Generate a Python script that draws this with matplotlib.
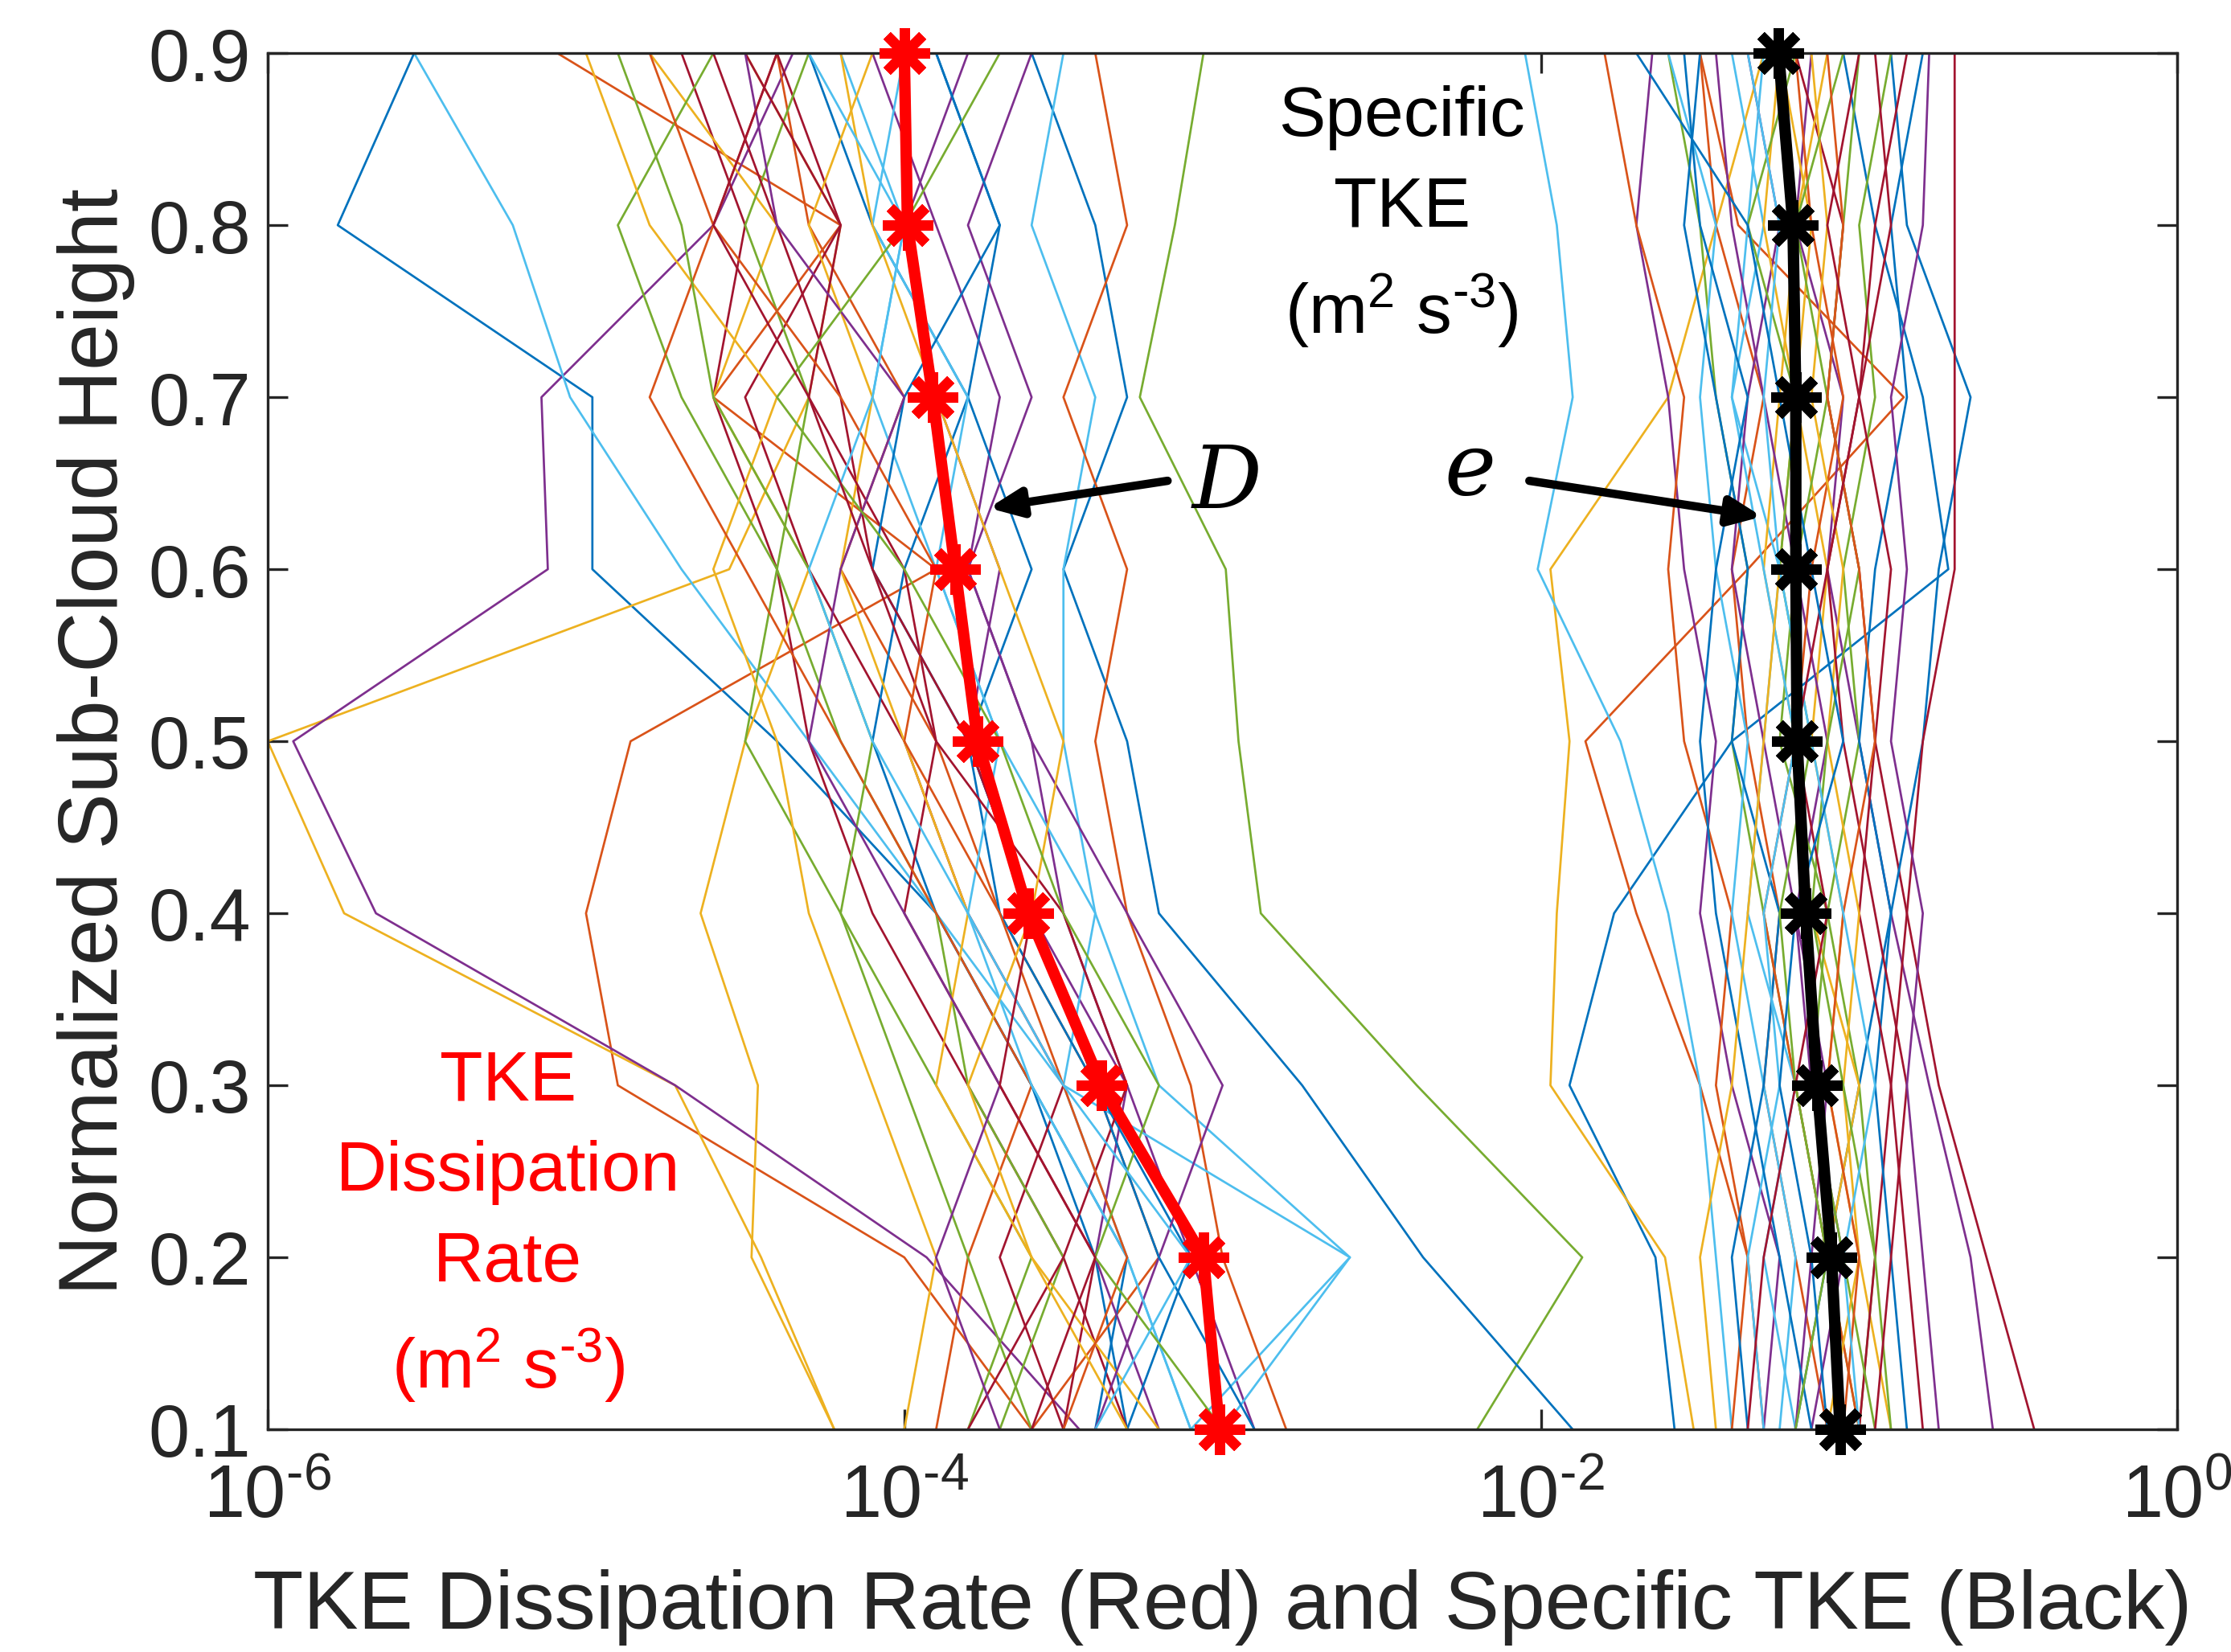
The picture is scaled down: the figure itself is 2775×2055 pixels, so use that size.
import numpy as np
import matplotlib
matplotlib.use('Agg')
import matplotlib.pyplot as plt

plt.rcParams['font.family'] = ['Liberation Sans', 'DejaVu Sans']
plt.rcParams['mathtext.fontset'] = 'custom'
plt.rcParams['mathtext.rm'] = 'Liberation Sans'
plt.rcParams['mathtext.it'] = 'Liberation Sans:italic'
plt.rcParams['mathtext.default'] = 'rm'

# normalized sub-cloud heights (bottom -> top)
heights = [0.1, 0.2, 0.3, 0.4, 0.5, 0.6, 0.7, 0.8, 0.9]

# mean profiles, log10 of value
mean_D = [-3.01, -3.06, -3.38, -3.61, -3.77, -3.84, -3.91, -3.99, -4.00]
mean_e = [-1.06, -1.087, -1.132, -1.168, -1.195, -1.199, -1.199, -1.208, -1.253]

# individual TKE dissipation rate profiles, log10 (approx.)
D_profiles = [
    [-3.3, -3.4, -3.6, -3.9, -4.4, -4.98, -4.98, -5.78, -5.54],
    [-3.6, -4.0, -4.9, -5.0, -4.86, -3.9, -4.6, -4.2, -5.09],
    [-4.22, -4.45, -4.72, -5.76, -6.0, -4.55, -4.3, -4.2, -4.5],
    [-3.45, -3.93, -4.72, -5.66, -5.92, -5.12, -5.14, -4.6, -4.35],
    [-2.2, -1.87, -2.39, -2.88, -2.95, -2.99, -3.26, -3.15, -3.06],
    [-3.1, -3.3, -3.5, -3.9, -4.3, -4.7, -5.05, -5.23, -5.54],
    [-3.3, -3.5, -3.8, -4.1, -4.3, -4.4, -4.6, -4.5, -4.7],
    [-1.9, -2.37, -2.75, -3.2, -3.3, -3.5, -3.3, -3.4, -3.6],
    [-3.6, -3.2, -3.4, -3.7, -3.9, -4.2, -4.0, -4.3, -4.4],
    [-4.22, -4.48, -4.46, -4.64, -4.5, -4.3, -4.6, -4.4, -4.8],
    [-2.9, -3.1, -3.3, -3.5, -3.6, -3.8, -3.7, -3.9, -4.1],
    [-3.8, -3.6, -3.9, -4.2, -4.5, -4.4, -4.7, -4.9, -4.6],
    [-3.1, -2.6, -3.2, -3.4, -3.5, -3.5, -3.4, -3.6, -3.5],
    [-3.5, -3.7, -3.5, -3.8, -4.0, -4.3, -4.5, -4.2, -4.4],
    [-3.4, -3.3, -3.6, -3.9, -4.1, -4.0, -3.8, -4.1, -4.3],
    [-2.8, -3.0, -3.1, -3.3, -3.4, -3.3, -3.5, -3.3, -3.4],
    [-4.0, -3.9, -4.1, -4.3, -4.4, -4.6, -4.4, -4.8, -5.0],
    [-3.2, -3.4, -3.3, -3.6, -3.8, -3.7, -3.9, -4.0, -3.8],
    [-3.7, -3.5, -3.8, -3.9, -4.2, -4.4, -4.3, -4.5, -4.3],
    [-3.0, -2.6, -3.5, -3.4, -3.7, -3.9, -4.1, -4.0, -4.2],
    [-3.5, -3.4, -3.7, -4.0, -3.9, -4.1, -4.2, -4.4, -4.6],
    [-3.3, -3.1, -3.4, -3.7, -3.8, -3.6, -3.8, -3.7, -3.9],
    [-3.9, -3.8, -3.6, -3.9, -4.2, -4.5, -4.8, -4.6, -4.4],
    [-3.2, -3.6, -3.9, -3.8, -4.0, -4.2, -4.1, -4.3, -4.1],
    [-3.4, -3.2, -3.0, -3.3, -3.6, -3.8, -3.6, -3.8, -3.6],
    [-3.6, -3.8, -4.0, -4.2, -4.1, -4.3, -4.6, -4.7, -4.9],
    [-3.1, -3.3, -3.6, -3.8, -3.7, -3.9, -3.8, -4.1, -4.0],
    [-3.8, -3.5, -3.3, -3.5, -3.9, -4.0, -4.3, -4.2, -4.5],
    [-2.9, -3.2, -3.4, -3.6, -3.8, -4.1, -4.0, -3.7, -3.9],
    [-3.5, -3.3, -3.5, -3.7, -4.0, -3.9, -4.2, -4.6, -4.8],
    [-3.3, -3.6, -3.8, -3.6, -3.5, -3.7, -3.9, -4.1, -4.2],
    [-3.7, -3.9, -3.7, -4.0, -4.3, -4.2, -4.0, -4.4, -4.5],
    [-3.0, -3.4, -3.2, -3.5, -3.7, -4.0, -4.4, -4.0, -3.7],
    [-3.4, -3.1, -3.5, -3.8, -4.1, -4.3, -4.1, -4.0, -4.3],
    [-3.6, -3.4, -3.7, -3.6, -3.8, -4.1, -4.3, -4.6, -4.4],
]

# individual specific TKE profiles, log10 (approx.)
e_profiles = [
    [-1.58, -1.64, -1.91, -1.77, -1.40, -0.72, -0.8, -0.95, -1.05],
    [-1.3, -1.35, -1.5, -1.7, -1.86, -1.35, -0.86, -1.38, -1.5],
    [-1.52, -1.61, -1.97, -1.95, -1.91, -1.97, -1.6, -1.45, -1.3],
    [-0.58, -0.65, -0.78, -0.9, -1.0, -1.1, -1.05, -1.2, -1.15],
    [-1.0, -1.1, -1.2, -1.3, -1.4, -1.35, -1.45, -1.5, -1.6],
    [-1.4, -1.45, -1.5, -1.6, -1.75, -2.01, -1.9, -1.95, -2.05],
    [-0.45, -0.6, -0.75, -0.85, -0.95, -1.0, -1.1, -1.05, -1.2],
    [-1.2, -1.1, -1.0, -0.9, -0.8, -0.75, -0.65, -0.85, -0.9],
    [-1.1, -1.2, -1.3, -1.25, -1.35, -1.4, -1.3, -1.45, -1.5],
    [-0.9, -1.0, -1.1, -1.05, -1.15, -1.1, -1.2, -1.15, -1.25],
    [-1.3, -1.25, -1.4, -1.5, -1.45, -1.55, -1.6, -1.7, -1.65],
    [-1.0, -0.95, -1.0, -1.1, -1.0, -1.05, -0.95, -1.0, -0.9],
    [-1.2, -1.3, -1.2, -1.35, -1.3, -1.25, -1.4, -1.35, -1.3],
    [-1.0, -0.95, -0.9, -0.85, -0.8, -0.7, -0.7, -0.7, -0.7],
    [-0.85, -0.9, -0.95, -0.9, -1.0, -0.95, -0.85, -0.9, -0.8],
    [-1.4, -1.35, -1.45, -1.4, -1.55, -1.6, -1.55, -1.7, -1.8],
    [-1.05, -1.1, -1.0, -1.15, -1.2, -1.3, -1.25, -1.2, -1.1],
    [-1.15, -1.05, -1.15, -1.2, -1.1, -1.2, -1.3, -1.4, -1.45],
    [-0.95, -1.05, -1.15, -1.1, -1.25, -1.2, -1.1, -1.05, -1.0],
    [-1.25, -1.2, -1.3, -1.4, -1.35, -1.45, -1.5, -1.45, -1.6],
    [-0.8, -0.85, -0.9, -1.0, -0.95, -0.9, -1.0, -0.95, -0.85],
    [-1.35, -1.4, -1.3, -1.25, -1.4, -1.35, -1.45, -1.55, -1.5],
    [-1.0, -1.1, -1.2, -1.3, -1.2, -1.15, -1.05, -1.15, -1.2],
    [-1.1, -1.0, -1.05, -1.0, -1.1, -1.05, -1.15, -1.1, -1.15],
    [-1.2, -1.15, -1.1, -1.2, -1.3, -1.4, -1.35, -1.25, -1.35],
    [-0.9, -0.95, -1.05, -1.15, -1.1, -1.0, -1.1, -1.2, -1.05],
    [-1.3, -1.35, -1.25, -1.3, -1.2, -1.3, -1.4, -1.3, -1.4],
    [-0.95, -0.9, -0.85, -0.95, -1.05, -1.1, -1.0, -0.9, -0.95],
    [-1.15, -1.25, -1.35, -1.45, -1.5, -1.45, -1.35, -1.5, -1.55],
    [-1.05, -1.0, -1.1, -1.05, -0.95, -1.0, -1.1, -1.05, -1.1],
    [-1.45, -1.5, -1.4, -1.35, -1.3, -1.25, -1.2, -1.3, -1.25],
    [-0.75, -0.8, -0.85, -0.8, -0.9, -0.85, -0.9, -0.8, -0.78],
    [-1.2, -1.1, -1.2, -1.25, -1.15, -1.25, -1.2, -1.35, -1.2],
    [-1.0, -1.05, -0.95, -1.05, -1.15, -1.25, -1.3, -1.25, -1.35],
    [-1.35, -1.3, -1.2, -1.1, -1.2, -1.1, -1.0, -1.1, -1.0],
    [-1.1, -1.15, -1.25, -1.2, -1.05, -1.15, -1.25, -1.35, -1.7],
]

xticks = [1e-6, 1e-4, 1e-2, 1e0]
xticklabels = ['10$^{\u2010 6}$', '10$^{\u2010 4}$', '10$^{\u2010 2}$', '10$^{0}$']
yticks = [0.1, 0.2, 0.3, 0.4, 0.5, 0.6, 0.7, 0.8, 0.9]

matlab_colors = ['#0072BD', '#D95319', '#EDB120', '#7E2F8E', '#77AC30', '#4DBEEE', '#A2142F']
axcol = '#262626'
unit_txt = '(m$^2$ s$^{\u2010 3}$)'

fig = plt.figure(figsize=(9.25, 6.853), dpi=300)
ax = fig.add_axes([0.120, 0.1347, 0.856, 0.8327])

for i, prof in enumerate(D_profiles):
    ax.plot(10.0 ** np.array(prof), heights, color=matlab_colors[i % 7], lw=0.65)
for i, prof in enumerate(e_profiles):
    ax.plot(10.0 ** np.array(prof), heights, color=matlab_colors[i % 7], lw=0.65)

star = (8, 2, 0)
ax.plot(10.0 ** np.array(mean_D), heights, color='red', lw=3.4, marker=star,
        ms=15, mew=3, mec='red', clip_on=False, zorder=5)
ax.plot(10.0 ** np.array(mean_e), heights, color='black', lw=3.4, marker=star,
        ms=15, mew=3, mec='black', clip_on=False, zorder=5)

ax.set_xscale('log')
ax.set_xlim(1e-6, 1e0)
ax.set_ylim(0.1, 0.9)
ax.set_xticks(xticks)
ax.set_xticklabels(xticklabels)
ax.minorticks_off()
ax.set_yticks(yticks)
ax.set_yticklabels([f'{v:.1f}' for v in yticks])

ax.tick_params(direction='in', top=True, right=True, length=6, width=0.8,
               labelsize=22, colors=axcol)
ax.tick_params(axis='y', pad=5)
ax.tick_params(axis='x', pad=10)
for s in ax.spines.values():
    s.set_color(axcol)
    s.set_linewidth(0.8)

ax.set_xlabel('TKE Dissipation Rate (Red) and Specific TKE (Black)', fontsize=24.5, color=axcol, labelpad=11)
ax.set_ylabel('Normalized Sub-Cloud Height', fontsize=25, color=axcol, labelpad=4)

ax.text(10 ** -5.245, 0.218, 'TKE\nDissipation\nRate\n' + unit_txt, color='red',
        fontsize=21, ha='center', va='center', linespacing=1.5)
ax.text(10 ** -2.437, 0.805, 'Specific\nTKE\n' + unit_txt, color='black',
        fontsize=21, ha='center', va='center', linespacing=1.5)

ax.annotate('', xy=(10 ** -3.756, 0.635), xytext=(10 ** -3.152, 0.652),
            arrowprops=dict(arrowstyle='-|>,head_length=0.8,head_width=0.35', lw=2.5, color='black'))
ax.annotate('', xy=(10 ** -1.284, 0.63), xytext=(10 ** -2.057, 0.652),
            arrowprops=dict(arrowstyle='-|>,head_length=0.8,head_width=0.35', lw=2.5, color='black'))
ax.text(10 ** -2.987, 0.65, 'D', fontsize=26, fontstyle='italic', family='DejaVu Serif',
        ha='center', va='center')
ax.text(10 ** -2.223, 0.658, 'e', fontsize=26, fontstyle='italic', family='DejaVu Serif',
        ha='center', va='center')

fig.savefig('out.png', dpi=300)
